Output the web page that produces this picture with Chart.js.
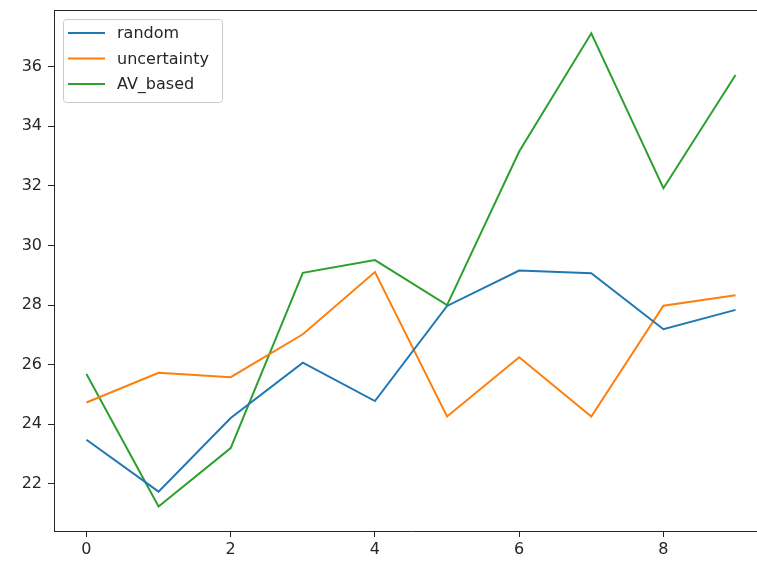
<!DOCTYPE html>
<html>
<head>
<meta charset="utf-8">
<script src="https://cdn.jsdelivr.net/npm/chart.js@4.4.1/dist/chart.umd.min.js"></script>
<style>
  html, body { margin: 0; padding: 0; background: #fff; overflow: hidden; }
  #wrap { width: 757px; height: 563px; overflow: hidden; }
</style>
</head>
<body>
<div id="wrap"><canvas id="chart" width="770" height="563"></canvas></div>
<script>
// values
const steps = [0, 1, 2, 3, 4, 5, 6, 7, 8, 9];
const randomScores = [23.48, 21.74, 24.21, 26.07, 24.78, 27.97, 29.16, 29.07, 27.19, 27.84];
const uncertaintyScores = [24.73, 25.73, 25.58, 27.02, 29.11, 24.26, 26.25, 24.26, 27.98, 28.33];
const avBasedScores = [25.69, 21.24, 23.2, 29.08, 29.51, 28.0, 33.15, 37.12, 31.92, 35.72];
const xTickValues = [0, 2, 4, 6, 8];
const yTickValues = [22, 24, 26, 28, 30, 32, 34, 36];

const inkColor = '#262626';
const fontFamily = '"DejaVu Sans", sans-serif';

function toPoints(values) {
    return values.map((v, i) => ({ x: steps[i], y: v }));
}

// matplotlib style frame: top spine + legend box in the upper left
// (the right spine falls outside the 757px window, like in the reference)
const framePlugin = {
    id: 'frame',
    afterDraw(chart) {
        const ctx = chart.ctx;
        const area = chart.chartArea;
        ctx.save();
        ctx.strokeStyle = inkColor;
        ctx.lineWidth = 1;
        ctx.beginPath();
        ctx.moveTo(area.left, area.top + 0.5);
        ctx.lineTo(area.right, area.top + 0.5);
        ctx.stroke();

        // legend
        const boxX = 63, boxY = 19, boxW = 159, boxH = 83;
        ctx.fillStyle = 'rgba(255,255,255,0.8)';
        ctx.strokeStyle = '#cccccc';
        ctx.beginPath();
        ctx.roundRect(boxX + 0.5, boxY + 0.5, boxW, boxH, 3);
        ctx.fill();
        ctx.stroke();

        ctx.font = '16px ' + fontFamily;
        ctx.textBaseline = 'middle';
        chart.data.datasets.forEach((ds, i) => {
            const rowY = 33 + i * 25.5;
            ctx.strokeStyle = ds.borderColor;
            ctx.lineWidth = 2;
            ctx.beginPath();
            ctx.moveTo(68, rowY);
            ctx.lineTo(105, rowY);
            ctx.stroke();
            ctx.fillStyle = inkColor;
            ctx.fillText(ds.label, 117, rowY + 1);
        });
        ctx.restore();
    }
};

new Chart(document.getElementById('chart'), {
    type: 'line',
    data: {
        datasets: [
            { label: 'random', data: toPoints(randomScores), borderColor: '#1f77b4' },
            { label: 'uncertainty', data: toPoints(uncertaintyScores), borderColor: '#ff7f0e' },
            { label: 'AV_based', data: toPoints(avBasedScores), borderColor: '#2ca02c' }
        ]
    },
    options: {
        responsive: false,
        animation: false,
        layout: { padding: { top: 10, right: 2, bottom: 0, left: 0 } },
        elements: {
            line: { borderWidth: 2, tension: 0, fill: false },
            point: { radius: 0 }
        },
        plugins: {
            legend: { display: false },
            tooltip: { enabled: false }
        },
        scales: {
            x: {
                type: 'linear',
                min: -0.45,
                max: 9.45,
                afterBuildTicks: scale => { scale.ticks = xTickValues.map(v => ({ value: v })); },
                afterFit: scale => { scale.height = 32; scale.paddingLeft = 0; scale.paddingRight = 0; },
                grid: { drawOnChartArea: false, drawTicks: true, tickLength: 6, tickColor: inkColor },
                border: { display: true, color: inkColor, width: 1 },
                ticks: { color: inkColor, font: { family: fontFamily, size: 16 }, padding: 3, maxRotation: 0 }
            },
            y: {
                type: 'linear',
                min: 20.42,
                max: 37.9,
                afterBuildTicks: scale => { scale.ticks = yTickValues.map(v => ({ value: v })); },
                afterFit: scale => { scale.width = 54; scale.paddingTop = 0; scale.paddingBottom = 0; },
                grid: { drawOnChartArea: false, drawTicks: true, tickLength: 6, tickColor: inkColor },
                border: { display: true, color: inkColor, width: 1 },
                ticks: { color: inkColor, font: { family: fontFamily, size: 16 }, padding: 6 }
            }
        }
    },
    plugins: [framePlugin]
});
</script>
</body>
</html>
